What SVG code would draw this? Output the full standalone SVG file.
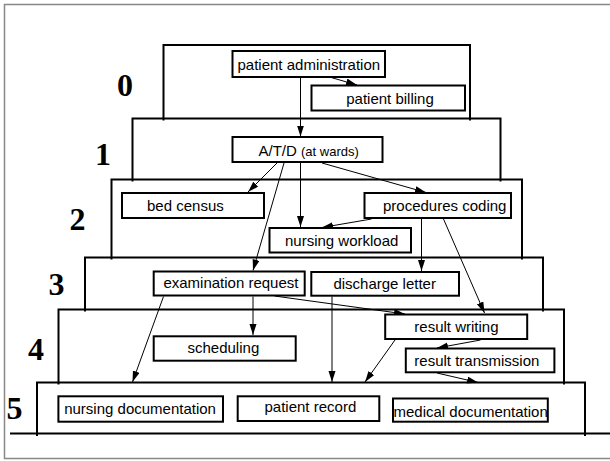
<svg xmlns="http://www.w3.org/2000/svg" width="610" height="461" viewBox="0 0 610 461">
<defs>
<marker id="ah" markerUnits="userSpaceOnUse" markerWidth="12" markerHeight="8" refX="11" refY="3.5" orient="auto">
<path d="M0,0 L11,3.5 L0,7 z" fill="#000"/>
</marker>
<style>
.tier{fill:none;stroke:#000;stroke-width:2}
.box{fill:#fff;stroke:#000;stroke-width:2}
.t{font-family:"Liberation Sans",Arial,sans-serif;font-size:15px;fill:#000}
.s{font-size:13px}
.lv{font-family:"Liberation Serif","Times New Roman",serif;font-weight:bold;font-size:32px;fill:#000;text-anchor:middle}
.c{fill:none;stroke:#000;stroke-width:1;marker-end:url(#ah)}
</style>
</defs>
<rect width="610" height="461" fill="#fff"/>
<path d="M610,4.5 H4.5 V458.5 H610" fill="none" stroke="#888" stroke-width="1.5"/>
<g id="tiers">
<path class="tier" d="M163.5,120.5 V45 H470 V120.5"/>
<path class="tier" d="M132.5,181.5 V118.5 H500.5 V181.5"/>
<path class="tier" d="M111.5,259.5 V179.5 H522 V259.5"/>
<path class="tier" d="M85,311.5 V257.5 H543 V311.5"/>
<path class="tier" d="M58.5,384.5 V309.5 H564 V384.5"/>
<path class="tier" d="M37,436 V382.5 H585 V436"/>
<line x1="10" y1="433.5" x2="610" y2="433.5" stroke="#000" stroke-width="2"/>
</g>
<g id="levels">
<text class="lv" x="125" y="96">0</text>
<text class="lv" x="103" y="165">1</text>
<text class="lv" x="77.5" y="230">2</text>
<text class="lv" x="56.5" y="295">3</text>
<text class="lv" x="36" y="360">4</text>
<text class="lv" x="14.6" y="419">5</text>
</g>
<g id="connectors">
<line class="c" x1="300.5" y1="77" x2="300.5" y2="136.5"/>
<line class="c" x1="326" y1="76" x2="357" y2="85"/>
<line class="c" x1="277" y1="163" x2="248" y2="192"/>
<line class="c" x1="284" y1="163" x2="253" y2="270.5"/>
<line class="c" x1="300.5" y1="163" x2="300.5" y2="227"/>
<line class="c" x1="322" y1="163" x2="426" y2="192.5"/>
<line class="c" x1="371.5" y1="219" x2="322" y2="227.5"/>
<line class="c" x1="421.5" y1="219" x2="421.5" y2="271"/>
<line class="c" x1="443.5" y1="219" x2="484.5" y2="313"/>
<line class="c" x1="253" y1="296.5" x2="253" y2="335"/>
<line class="c" x1="274.5" y1="296" x2="405" y2="314"/>
<line class="c" x1="163.5" y1="296.5" x2="132.5" y2="382"/>
<line class="c" x1="332" y1="296.5" x2="332" y2="382"/>
<line class="c" x1="395" y1="340" x2="365" y2="382"/>
<line class="c" x1="480.5" y1="340" x2="437" y2="348"/>
<line class="c" x1="437" y1="373" x2="478" y2="382.5"/>
</g>
<g id="n-patient-administration">
<rect class="box" x="232.5" y="51" width="152.5" height="26"/>
<text class="t" x="308.8" y="70" text-anchor="middle">patient administration</text>
</g>
<g id="n-patient-billing">
<rect class="box" x="311.5" y="85.5" width="153.5" height="25"/>
<text class="t" x="390" y="104" text-anchor="middle">patient billing</text>
</g>
<g id="n-atd">
<rect class="box" x="232.5" y="137" width="150" height="25"/>
<text class="t" x="258.5" y="156">A/T/D <tspan class="s">(at wards)</tspan></text>
</g>
<g id="n-bed-census">
<rect class="box" x="122" y="193" width="142" height="25"/>
<text class="t" x="147" y="210.5">bed census</text>
</g>
<g id="n-procedures-coding">
<rect class="box" x="364.5" y="193" width="146.5" height="25"/>
<text class="t" x="383" y="210.5">procedures coding</text>
</g>
<g id="n-nursing-workload">
<rect class="box" x="269.5" y="228" width="141.5" height="24.5"/>
<text class="t" x="285" y="245.5">nursing workload</text>
</g>
<g id="n-examination-request">
<rect class="box" x="153.7" y="271.5" width="151" height="24"/>
<text class="t" x="163.4" y="287.5">examination request</text>
</g>
<g id="n-discharge-letter">
<rect class="box" x="311.3" y="272" width="147.7" height="23.7"/>
<text class="t" x="333.4" y="288.7">discharge letter</text>
</g>
<g id="n-result-writing">
<rect class="box" x="385.2" y="314.5" width="142" height="24.5"/>
<text class="t" x="414.3" y="331.7">result writing</text>
</g>
<g id="n-scheduling">
<rect class="box" x="153.7" y="336.3" width="142" height="24.4"/>
<text class="t" x="187.5" y="353.3">scheduling</text>
</g>
<g id="n-result-transmission">
<rect class="box" x="405.8" y="348.5" width="148.6" height="23.8"/>
<text class="t" x="414.3" y="366">result transmission</text>
</g>
<g id="n-nursing-documentation">
<rect class="box" x="58.4" y="396.3" width="164.6" height="25.4"/>
<text class="t" x="64.2" y="414">nursing documentation</text>
</g>
<g id="n-patient-record">
<rect class="box" x="237.7" y="396.3" width="141.6" height="24.7"/>
<text class="t" x="264.5" y="411.7">patient record</text>
</g>
<g id="n-medical-documentation">
<rect class="box" x="393" y="398.5" width="154.8" height="23.2"/>
<text class="t" x="393.5" y="416.7">medical documentation</text>
</g>
</svg>
